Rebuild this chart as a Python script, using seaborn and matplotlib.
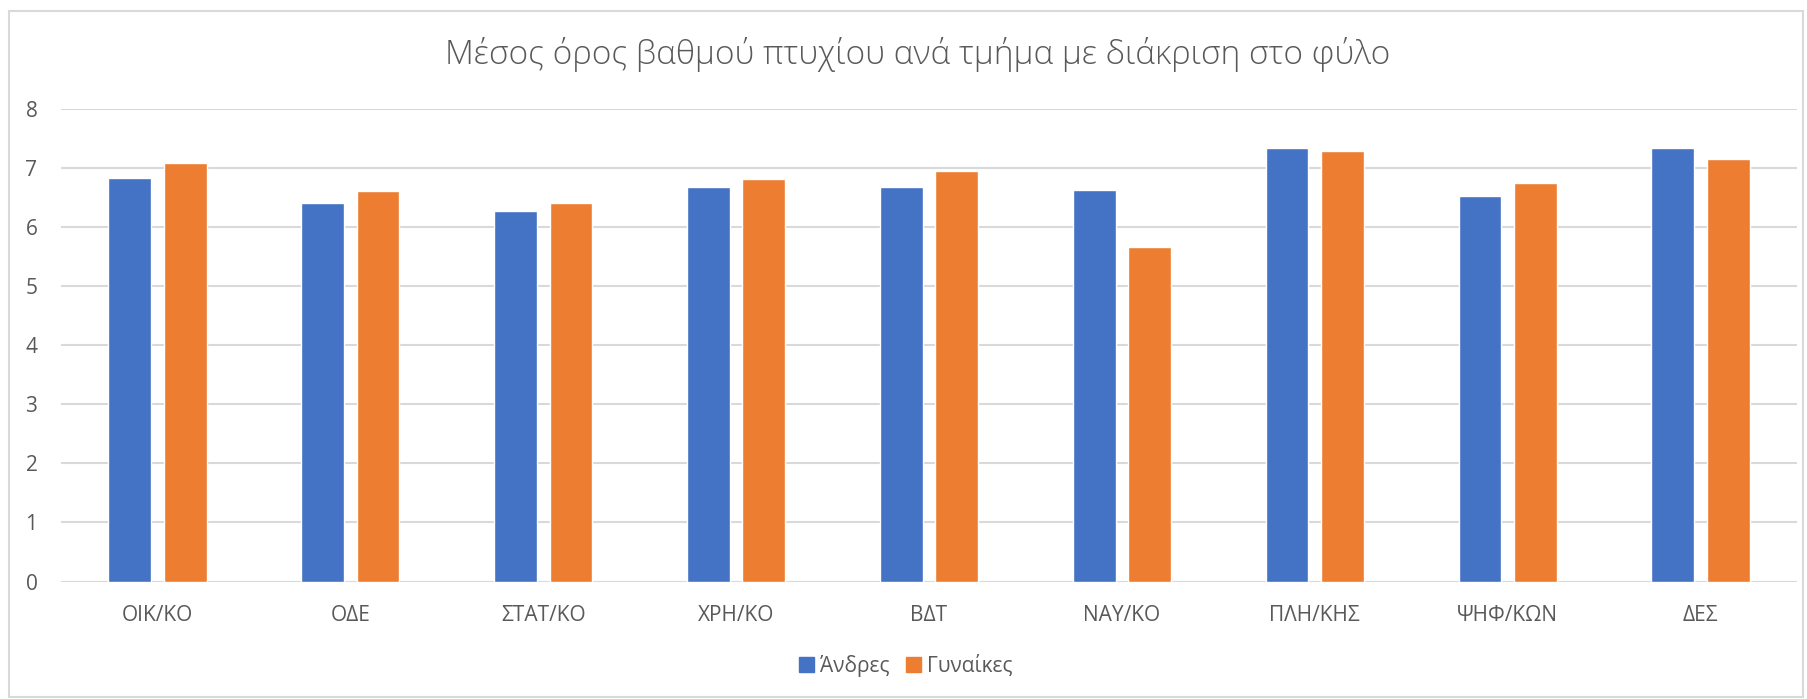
import matplotlib
matplotlib.use("Agg")
import matplotlib.pyplot as plt
import matplotlib.patches as mpatches
import seaborn as sns
import pandas as pd

categories = ["ΟΙΚ/ΚΟ", "ΟΔΕ", "ΣΤΑΤ/ΚΟ", "ΧΡΗ/ΚΟ", "ΒΔΤ", "ΝΑΥ/ΚΟ", "ΠΛΗ/ΚΗΣ", "ΨΗΦ/ΚΩΝ", "ΔΕΣ"]
men = [6.83, 6.42, 6.27, 6.68, 6.68, 6.63, 7.35, 6.53, 7.34]
women = [7.09, 6.62, 6.42, 6.82, 6.95, 5.66, 7.30, 6.75, 7.16]
series_names = ["Άνδρες", "Γυναίκες"]
title = "Μέσος όρος βαθμού πτυχίου ανά τμήμα με διάκριση στο φύλο"
yticks = [0, 1, 2, 3, 4, 5, 6, 7, 8]

df = pd.DataFrame({"Τμήμα": categories, series_names[0]: men, series_names[1]: women})
long = df.melt(id_vars="Τμήμα", var_name="Φύλο", value_name="Βαθμός")

sns.set_theme(style="white")
plt.rcParams["font.family"] = ["Open Sans", "DejaVu Sans"]

W, H = 1807, 699
fig = plt.figure(figsize=(W / 100, H / 100), dpi=100)
ax = fig.add_axes([61 / W, 1 - 581.5 / H, (1797 - 61) / W, (581.5 - 109.3) / H])

colors = {"Άνδρες": "#4472C4", "Γυναίκες": "#ED7D31"}
sns.barplot(data=long, x="Τμήμα", y="Βαθμός", hue="Φύλο", palette=colors,
            width=0.575, gap=0.23, saturation=1, ax=ax, legend=False, zorder=3)

ax.set_ylim(0, 8)
ax.set_xlim(-0.5, len(categories) - 0.5)
ax.set_yticks(yticks)
ax.set_xlabel("")
ax.set_ylabel("")
ax.yaxis.grid(True, color="#D9D9D9", linewidth=1.5, zorder=0)
ax.set_axisbelow(True)
for s in ax.spines.values():
    s.set_visible(False)
ax.tick_params(axis="both", length=0, labelsize=15, labelcolor="#595959")
ax.tick_params(axis="y", pad=17)
ax.tick_params(axis="x", pad=17)

fig.text(918 / W, 1 - 54 / H, title, ha="center", va="center",
         fontsize=24, color="#595959", fontweight="light")

handles = [mpatches.Patch(color=colors[n], label=n) for n in series_names]
fig.legend(handles=handles, loc="center", bbox_to_anchor=(906 / W, 1 - 666 / H),
           ncol=2, frameon=False, fontsize=15, labelcolor="#595959",
           handlelength=0.7, handleheight=0.7, handletextpad=0.3, columnspacing=0.8)

fig.patches.append(mpatches.Rectangle((9 / W, 2 / H), (1803 - 9) / W, (699 - 11 - 2) / H,
                                      transform=fig.transFigure, fill=False,
                                      edgecolor="#D9D9D9", linewidth=1.5))

fig.savefig("out.png", dpi=100, facecolor="white")
